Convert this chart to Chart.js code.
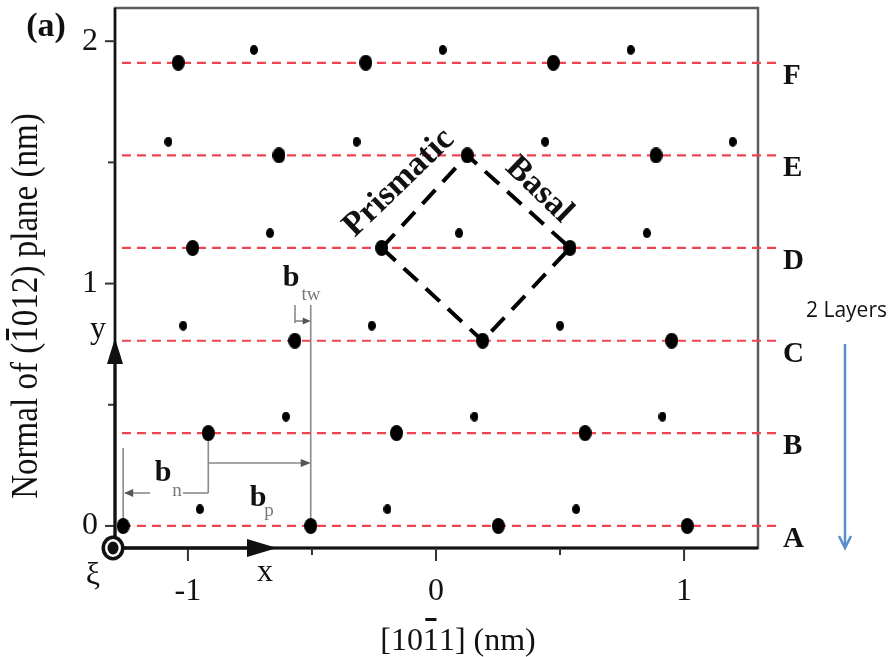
<!DOCTYPE html>
<html>
<head>
<meta charset="utf-8">
<script src="https://cdn.jsdelivr.net/npm/chart.js@4.4.0/dist/chart.umd.min.js"></script>
<style>
  body { margin: 0; background: #fff; }
  #wrap { width: 894px; height: 657px; }
</style>
</head>
<body>
<div id="wrap"><canvas id="myChart"></canvas></div>
<script>
// Capas atómicas (nm) y sus nombres
const layerNames = ['A', 'B', 'C', 'D', 'E', 'F'];
const layerY = [0, 0.383, 0.764, 1.147, 1.529, 1.911];

// Átomos grandes, sobre cada capa
const bigX = [-1.261, -0.505, 0.251, 1.013,
              -0.918, -0.159, 0.601,
              -0.569, 0.188, 0.950,
              -0.981, -0.219, 0.540,
              -0.633, 0.126, 0.887,
              -1.039, -0.283, 0.473];
const bigY = [0, 0, 0, 0,
              0.383, 0.383, 0.383,
              0.764, 0.764, 0.764,
              1.147, 1.147, 1.147,
              1.529, 1.529, 1.529,
              1.911, 1.911, 1.911];

// Átomos pequeños, un poco por encima de cada capa
const smallX = [-0.952, -0.196, 0.565,
                -0.605, 0.155, 0.913,
                -1.019, -0.259, 0.500,
                -0.669, 0.093, 0.850,
                -1.079, -0.320, 0.440, 1.196,
                -0.734, 0.027, 0.785];
const smallY = [0.069, 0.069, 0.069,
                0.451, 0.451, 0.451,
                0.826, 0.826, 0.826,
                1.208, 1.208, 1.208,
                1.585, 1.585, 1.585, 1.585,
                1.964, 1.964, 1.964];

// Celda: caras prismática y basal
const cellX = [-0.219, 0.126, 0.540, 0.188, -0.219];
const cellY = [1.147, 1.529, 1.147, 0.764, 1.147];

// Extremos de las líneas de capa
const layerLineX = [-1.266, 1.387];

const xTicks = [-1, -0.5, 0, 0.5, 1];
const yTicks = [0, 0.5, 1, 1.5, 2];

const SERIF = "'Liberation Serif', 'Times New Roman', serif";

// Punto negro elíptico para los átomos
function dot(w, h) {
    const c = document.createElement('canvas');
    c.width = w; c.height = h;
    const g = c.getContext('2d');
    g.fillStyle = '#000';
    g.beginPath();
    g.ellipse(w / 2, h / 2, w / 2, h / 2, 0, 0, Math.PI * 2);
    g.fill();
    return c;
}

function line(ctx, x1, y1, x2, y2) {
    ctx.beginPath();
    ctx.moveTo(x1, y1);
    ctx.lineTo(x2, y2);
    ctx.stroke();
}

// Punta de flecha rellena; dir = ángulo en radianes
function head(ctx, x, y, dir, len, half) {
    ctx.save();
    ctx.translate(x, y);
    ctx.rotate(dir);
    ctx.beginPath();
    ctx.moveTo(0, 0);
    ctx.lineTo(-len, -half);
    ctx.lineTo(-len, half);
    ctx.closePath();
    ctx.fill();
    ctx.restore();
}

// Texto con barra encima de un carácter (índices de Miller)
function barText(ctx, parts, x, y) {
    const w = parts.map(p => ctx.measureText(p).width);
    let cx = x - (w[0] + w[1] + w[2]) / 2;
    ctx.textAlign = 'left';
    ctx.fillText(parts[0], cx, y); cx += w[0];
    ctx.fillText(parts[1], cx, y);
    return {x1: cx + w[1] * 0.15, x2: cx + w[1] * 0.85, after: () => ctx.fillText(parts[2], cx + w[1], y)};
}

const figureDecor = {
    id: 'figureDecor',
    beforeDatasetsDraw(chart) {
        const {ctx, chartArea: a, scales: {x, y}} = chart;
        ctx.save();

        // Marco
        ctx.strokeStyle = '#5c5c5c';
        ctx.lineWidth = 2.5;
        ctx.strokeRect(a.left, a.top, a.right - a.left, a.bottom - a.top);
        ctx.strokeStyle = '#111';
        line(ctx, a.left, a.top, a.left, a.bottom);
        ctx.lineWidth = 3;
        line(ctx, a.left, a.bottom, a.right, a.bottom);

        // Marcas de los ejes
        ctx.strokeStyle = '#333';
        ctx.lineWidth = 2;
        xTicks.forEach(v => {
            const px = x.getPixelForValue(v);
            line(ctx, px, a.bottom, px, a.bottom + (Number.isInteger(v) ? 13 : 7));
        });
        yTicks.forEach(v => {
            const py = y.getPixelForValue(v);
            line(ctx, a.left, py, a.left - (Number.isInteger(v) ? 10 : 7), py);
        });

        // Cotas b_n, b_p, b_tw
        const xa0 = x.getPixelForValue(bigX[0]);
        const xa1 = x.getPixelForValue(bigX[1]);
        const xb0 = x.getPixelForValue(bigX[4]);
        const ya = y.getPixelForValue(bigY[0]);
        const yb = y.getPixelForValue(bigY[4]);
        ctx.strokeStyle = '#8a8a8a';
        ctx.fillStyle = '#555';
        ctx.lineWidth = 1.6;
        line(ctx, xa0, 448, xa0, ya);
        line(ctx, 150, 493, xa0 + 2, 493);
        head(ctx, xa0 + 1, 493, Math.PI, 9, 4);
        line(ctx, 183, 493, xb0, 493);
        line(ctx, xb0, yb, xb0, 493);
        line(ctx, xb0, 463, xa1 - 2, 463);
        head(ctx, xa1, 463, 0, 10, 4);
        line(ctx, xa1, 305, xa1, ya);
        line(ctx, 295, 305, 295, 323);
        line(ctx, 295, 321, xa1 - 2, 321);
        head(ctx, xa1, 321, 0, 8, 3.5);

        ctx.restore();
    },
    afterDatasetsDraw(chart) {
        const {ctx, chartArea: a, scales: {y}} = chart;
        ctx.save();
        ctx.fillStyle = '#111';
        ctx.strokeStyle = '#111';

        // Ejes x, y con flechas desde el origen
        const ox = a.left - 2, oy = a.bottom;
        ctx.lineWidth = 3;
        line(ctx, ox, oy, a.left + 140, oy);
        head(ctx, a.left + 162, oy, 0, 30, 9);
        ctx.lineWidth = 3;
        line(ctx, a.left, oy, a.left, a.bottom - 190);
        head(ctx, a.left, a.bottom - 210, -Math.PI / 2, 26, 8);

        // Símbolo ξ (hacia fuera del plano)
        ctx.beginPath(); ctx.ellipse(ox, oy, 11.5, 12.5, 0, 0, Math.PI * 2); ctx.fill();
        ctx.fillStyle = '#fff';
        ctx.beginPath(); ctx.ellipse(ox, oy, 8, 9, 0, 0, Math.PI * 2); ctx.fill();
        ctx.fillStyle = '#111';
        ctx.beginPath(); ctx.ellipse(ox, oy, 5.5, 6.5, 0, 0, Math.PI * 2); ctx.fill();

        ctx.textBaseline = 'alphabetic';
        ctx.textAlign = 'center';
        ctx.font = '32px ' + SERIF;
        ctx.fillText('ξ', 93, 584);
        ctx.fillText('x', 265, 581);
        ctx.fillText('y', 98, 338);

        // (a)
        ctx.font = 'bold 34px ' + SERIF;
        ctx.fillText('(a)', 46, 36);

        // Nombres de capas
        ctx.font = 'bold 29px ' + SERIF;
        ctx.textAlign = 'left';
        layerY.forEach((v, i) => {
            ctx.fillText(layerNames[i], 783, y.getPixelForValue(v) + 21);
        });

        // Prismatic / Basal
        ctx.font = 'bold 34px ' + SERIF;
        ctx.textAlign = 'center';
        ctx.textBaseline = 'middle';
        ctx.save();
        ctx.translate(399, 183);
        ctx.rotate(-44 * Math.PI / 180);
        ctx.fillText('Prismatic', 0, 0);
        ctx.restore();
        ctx.save();
        ctx.translate(539, 190);
        ctx.rotate(44 * Math.PI / 180);
        ctx.fillText('Basal', 0, 0);
        ctx.restore();

        // b con subíndices
        ctx.textBaseline = 'alphabetic';
        ctx.font = 'bold 30px ' + SERIF;
        ctx.fillText('b', 163, 481);
        ctx.fillText('b', 258, 506);
        ctx.fillText('b', 291, 286);
        ctx.fillStyle = '#777';
        ctx.font = '19px ' + SERIF;
        ctx.fillText('n', 177, 496);
        ctx.fillText('p', 269, 516);
        ctx.fillText('tw', 311, 300);

        // Títulos de los ejes
        ctx.fillStyle = '#111';
        ctx.font = '32px ' + SERIF;
        const xt = barText(ctx, ['[10', '1', '1] (nm)'], 458, 650);
        xt.after();
        ctx.fillRect(xt.x1, 618, xt.x2 - xt.x1, 3);

        ctx.save();
        ctx.translate(0, 306);
        ctx.rotate(-Math.PI / 2);
        ctx.scale(0.87, 1);
        ctx.font = '38px ' + SERIF;
        const yt = barText(ctx, ['Normal of (', '1', '012) plane (nm)'], 0, 37);
        yt.after();
        ctx.fillRect(yt.x1, 6, yt.x2 - yt.x1, 3);
        ctx.restore();

        // 2 Layers
        ctx.font = "21px 'Open Sans', sans-serif";
        ctx.textAlign = 'left';
        ctx.fillText('2 Layers', 806, 317);
        ctx.strokeStyle = '#5b8dcc';
        ctx.lineWidth = 2.5;
        line(ctx, 845, 344, 845, 547);
        ctx.beginPath();
        ctx.moveTo(839, 536);
        ctx.lineTo(845, 548);
        ctx.lineTo(851, 536);
        ctx.stroke();

        ctx.restore();
    }
};

function createChart() {
    const ctx = document.getElementById('myChart').getContext('2d');

    const layerSets = layerY.map(v => ({
        type: 'line',
        label: 'capa',
        data: layerLineX.map(px => ({x: px, y: v})),
        borderColor: '#ee4452',
        borderWidth: 2.2,
        borderDash: [9, 6],
        pointRadius: 0,
        clip: false,
        order: 3
    }));

    new Chart(ctx, {
        type: 'scatter',
        data: {
            datasets: [
                {
                    label: 'grandes',
                    data: bigX.map((v, i) => ({x: v, y: bigY[i]})),
                    pointStyle: dot(13, 16),
                    pointRadius: 7,
                    order: 0
                },
                {
                    label: 'pequeños',
                    data: smallX.map((v, i) => ({x: v, y: smallY[i]})),
                    pointStyle: dot(8, 10),
                    pointRadius: 4,
                    order: 0
                },
                {
                    type: 'line',
                    label: 'celda',
                    data: cellX.map((v, i) => ({x: v, y: cellY[i]})),
                    borderColor: '#000',
                    borderWidth: 4,
                    borderDash: [19, 11],
                    borderCapStyle: 'butt',
                    pointRadius: 0,
                    tension: 0,
                    clip: false,
                    order: 1
                },
                ...layerSets
            ]
        },
        options: {
            responsive: true,
            maintainAspectRatio: false,
            animation: false,
            events: [],
            layout: { padding: { top: 8, right: 136, left: 0, bottom: 0 } },
            plugins: { legend: { display: false }, tooltip: { enabled: false } },
            scales: {
                x: {
                    type: 'linear',
                    min: -1.294,
                    max: 1.298,
                    afterBuildTicks: s => { s.ticks = xTicks.map(v => ({value: v})); },
                    afterFit: s => { s.height = 109; s.paddingLeft = 0; s.paddingRight = 0; },
                    grid: { display: false, drawTicks: false },
                    border: { display: false },
                    ticks: {
                        font: { family: SERIF, size: 32 },
                        color: '#111',
                        padding: 24,
                        maxRotation: 0,
                        autoSkip: false,
                        callback: v => Number.isInteger(v) ? String(v) : ''
                    }
                },
                y: {
                    type: 'linear',
                    min: -0.091,
                    max: 2.137,
                    afterBuildTicks: s => { s.ticks = yTicks.map(v => ({value: v})); },
                    afterFit: s => { s.width = 115; s.paddingTop = 0; s.paddingBottom = 0; },
                    grid: { display: false, drawTicks: false },
                    border: { display: false },
                    ticks: {
                        font: { family: SERIF, size: 32 },
                        color: '#111',
                        padding: 17,
                        autoSkip: false,
                        callback: v => Number.isInteger(v) ? String(v) : ''
                    }
                }
            }
        },
        plugins: [figureDecor]
    });
}

window.onload = createChart;
</script>
</body>
</html>
